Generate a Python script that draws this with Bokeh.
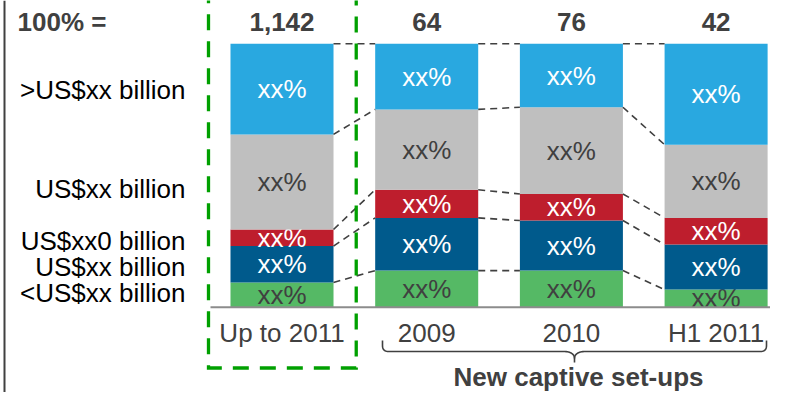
import numpy as np
from bokeh.plotting import figure
from bokeh.models import ColumnDataSource, Range1d
from bokeh.core.properties import value
from bokeh.embed import file_html
from bokeh.resources import INLINE

# ---------------- data ----------------
categories = ["Up to 2011", "2009", "2010", "H1 2011"]
totals = ["1,142", "64", "76", "42"]
total_header = "100% ="
group_label = "New captive set-ups"
# size bands, bottom to top
bands = ["<US$xx billion", "US$xx billion", "US$xx0 billion", "US$xx billion", ">US$xx billion"]
share_lt = [9.4, 13.9, 13.9, 6.7]      # <US$xx billion
share_b2 = [13.8, 20.0, 19.0, 17.1]    # US$xx billion
share_b3 = [6.3, 10.7, 10.1, 10.1]     # US$xx0 billion
share_b4 = [36.1, 30.5, 32.9, 27.8]    # US$xx billion
share_gt = [34.4, 24.9, 24.1, 38.3]    # >US$xx billion
segment_text = "xx%"

# ---------------- styling ----------------
band_colors = ["#55B965", "#005A8C", "#BE1E2D", "#BFBFBF", "#29A8E0"]
label_colors = ["#404040", "white", "white", "#404040", "white"]
band_label_nudge_px = [-2, 3, 3, 7, 1]   # vertical nudges for the left-hand labels
FONT = value("Liberation Sans")
DARK = "#404040"

W, H = 770, 392
PX_PER_CAT = 144.7
X0_PX = 281.5
PX_PER_PCT = 2.634
Y0_PX = 306.7
BAR_W = 0.712


def px2x(cx):
    return (cx - X0_PX) / PX_PER_CAT


def px2y(cy):
    return (Y0_PX - cy) / PX_PER_PCT


x_start, x_end = px2x(0), px2x(W)
y_start, y_end = px2y(H), px2y(0)

p = figure(width=W, height=H, x_range=Range1d(x_start, x_end), y_range=Range1d(y_start, y_end),
           output_backend="svg", toolbar_location=None, min_border=0,
           outline_line_color=None, background_fill_color="white", border_fill_color="white")
p.axis.visible = False
p.grid.visible = False

idx = np.arange(len(categories), dtype=float)
shares = np.array([share_lt, share_b2, share_b3, share_b4, share_gt])
cum_hi = np.cumsum(shares, axis=0)
cum_lo = cum_hi - shares

# stacked bars and labels
for k in range(len(bands)):
    src = ColumnDataSource(dict(x=idx, bottom=cum_lo[k], top=cum_hi[k],
                                mid=(cum_lo[k] + cum_hi[k]) / 2,
                                txt=[segment_text] * len(categories)))
    p.vbar(x="x", width=BAR_W, bottom="bottom", top="top", source=src,
           fill_color=band_colors[k], line_color=None)
    p.text(x="x", y="mid", text="txt", source=src, text_font=FONT, text_font_size="26px",
           text_color=label_colors[k], text_align="center", text_baseline="middle")

# connector dashed lines between adjacent bars
sx0, sy0, sx1, sy1 = [], [], [], []
for i in range(len(categories) - 1):
    for k in range(len(bands)):
        sx0.append(idx[i] + BAR_W / 2)
        sx1.append(idx[i + 1] - BAR_W / 2)
        sy0.append(cum_hi[k][i])
        sy1.append(cum_hi[k][i + 1])
p.segment(x0=sx0, y0=sy0, x1=sx1, y1=sy1, line_color=DARK, line_width=1.6, line_dash="7 5")

# baseline
p.segment(x0=[px2x(210)], y0=[0], x1=[x_end], y1=[0], line_color="#8C8C8C", line_width=2)

# left band labels (aligned with first bar's segments)
mids0 = (cum_lo[:, 0] + cum_hi[:, 0]) / 2
p.text(x=[px2x(185)] * len(bands), y=list(mids0 - np.array(band_label_nudge_px) / PX_PER_PCT),
       text=bands, text_font=FONT, text_font_size="26px", text_color="black",
       text_align="right", text_baseline="middle")

# totals row
ty = px2y(21)
p.text(x=list(idx), y=[ty] * len(totals), text=totals, text_font=FONT, text_font_size="26px",
       text_font_style="bold", text_color=DARK, text_align="center", text_baseline="middle")
p.text(x=[px2x(17)], y=[ty], text=[total_header], text_font=FONT, text_font_size="26px",
       text_font_style="bold", text_color=DARK, text_align="left", text_baseline="middle")

# category labels
p.text(x=list(idx), y=[px2y(332)] * len(categories), text=categories, text_font=FONT,
       text_font_size="26px", text_color=DARK, text_align="center", text_baseline="middle")

# green dashed highlight box around first category
gl, gr = idx[0] - 0.508, idx[0] + 0.513
gb = px2y(367.5)
gt = y_end + 5
p.line(x=[gl, gl, gr, gr], y=[gt, gb, gb, gt], line_color="#00A000", line_width=3.3,
       line_dash="16 11", line_join="miter")


# brace under the new set-ups
def quad(p0, c, p1, n=12):
    t = np.linspace(0, 1, n)[:, None]
    return (1 - t) ** 2 * np.array(p0) + 2 * (1 - t) * t * np.array(c) + t ** 2 * np.array(p1)


def cubic(p0, c0, c1, p1, n=16):
    t = np.linspace(0, 1, n)[:, None]
    return ((1 - t) ** 3 * np.array(p0) + 3 * (1 - t) ** 2 * t * np.array(c0)
            + 3 * (1 - t) * t ** 2 * np.array(c1) + t ** 3 * np.array(p1))


bl, br, bm = 382, 766, 574
btop, bh, btip = 340, 351, 362
left_half = np.vstack([[[bl, btop]], quad((bl, bh - 6), (bl, bh), (bl + 6, bh)),
                       cubic((bm - 11, bh), (bm - 4, bh), (bm, bh + 2.5), (bm, bh + 7)),
                       [[bm, btip]]])
right_half = np.vstack([cubic((bm, bh + 7), (bm, bh + 2.5), (bm + 4, bh), (bm + 11, bh)),
                        quad((br - 6, bh), (br, bh), (br, bh - 6)), [[br, btop]]])
p.multi_line(xs=[list(px2x(left_half[:, 0])), list(px2x(right_half[:, 0]))],
             ys=[list(px2y(left_half[:, 1])), list(px2y(right_half[:, 1]))],
             line_color=DARK, line_width=1.6)

p.text(x=[px2x(578)], y=[px2y(376)], text=[group_label], text_font=FONT, text_font_size="26px",
       text_font_style="bold", text_color=DARK, text_align="center", text_baseline="middle")

# left frame line
p.segment(x0=[px2x(4)], y0=[y_start], x1=[px2x(4)], y1=[y_end], line_color=DARK, line_width=2)

open("out.html", "w").write(file_html(p, INLINE))
